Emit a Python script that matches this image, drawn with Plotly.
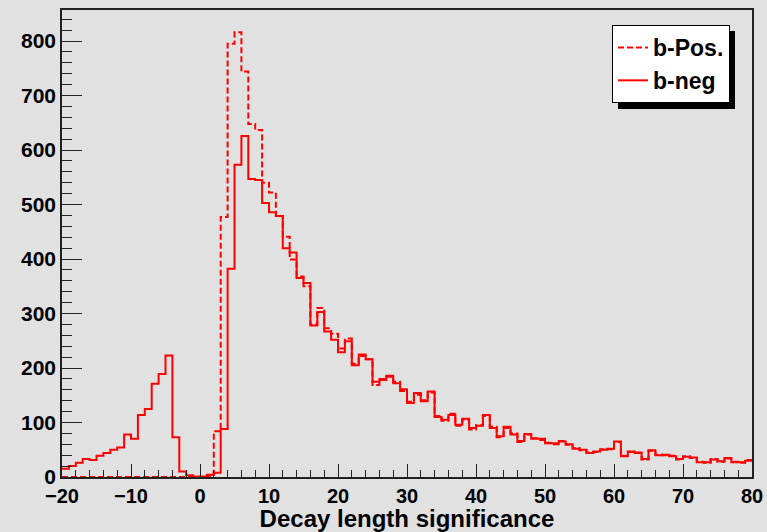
import plotly.graph_objects as go

# Histogram binning: 100 bins of width 1 from -20 to 80
bin_edges = list(range(-20, 81))

# b-Pos. (dashed) bin contents, bins -20..79
b_pos = [
    0, 0, 0, 0, 0, 0, 0, 0, 0, 0,          # -20 .. -11
    0, 0, 0, 0, 0, 0, 0, 0, 0, 0,          # -10 .. -1
    0, 2, 84, 477, 795, 816, 744, 648, 637, 540,   # 0 .. 9
    522, 479, 441, 399, 368, 350, 280, 310, 273, 263,  # 10 .. 19
    236, 254, 208, 222, 216, 169, 180, 184, 175, 158,  # 20 .. 29
    138, 151, 141, 155, 112, 103, 116, 94, 105, 87,    # 30 .. 39
    95, 112, 92, 73, 90, 80, 64, 78, 71, 68,           # 40 .. 49
    63, 60, 66, 59, 53, 49, 45, 46, 51, 51,            # 50 .. 59
    64, 39, 46, 45, 32, 48, 41, 40, 39, 32,            # 60 .. 69
    38, 35, 28, 26, 33, 28, 34, 28, 26, 31,            # 70 .. 79
]

# b-neg (solid) bin contents, bins -20..79
b_neg = [
    15, 20, 26, 33, 31, 39, 44, 50, 54, 78,            # -20 .. -11
    70, 114, 125, 171, 189, 223, 73, 10, 3, 1,         # -10 .. -1
    1, 4, 8, 88, 382, 573, 626, 547, 545, 503,         # 0 .. 9
    486, 479, 420, 412, 365, 356, 278, 303, 267, 252,  # 10 .. 19
    229, 249, 205, 225, 216, 175, 178, 186, 172, 161,  # 20 .. 29
    136, 154, 139, 157, 110, 105, 114, 96, 107, 90,    # 30 .. 39
    94, 114, 90, 75, 92, 78, 66, 79, 70, 70,           # 40 .. 49
    62, 62, 65, 60, 52, 50, 44, 47, 50, 52,            # 50 .. 59
    65, 38, 47, 44, 33, 49, 40, 41, 38, 33,            # 60 .. 69
    37, 36, 27, 27, 32, 29, 35, 27, 27, 30,            # 70 .. 79
]

x_ticks = [-20, -10, 0, 10, 20, 30, 40, 50, 60, 70, 80]
y_ticks = [0, 100, 200, 300, 400, 500, 600, 700, 800]

BG = "#e1e1e1"
RED = "#ff0000"
FONT = "Liberation Sans"

fig = go.Figure()
fig.add_trace(go.Scatter(
    x=bin_edges, y=b_pos + [b_pos[-1]], mode="lines", name="b-Pos.",
    line=dict(shape="hv", color=RED, width=2, dash="6px,3px"),
))
fig.add_trace(go.Scatter(
    x=bin_edges, y=b_neg + [b_neg[-1]], mode="lines", name="b-neg",
    line=dict(shape="hv", color=RED, width=2),
))

axis_common = dict(
    showline=True, mirror=True, linecolor="#222", linewidth=1.5,
    ticks="inside", tickcolor="#222", tickwidth=1.2,
    showgrid=False, zeroline=False, automargin=False,
)

# legend box (pixels) and its drop shadow
LEG_L, LEG_T = 612, 25
fig.update_layout(
    width=767, height=532,
    margin=dict(l=62, r=15, t=10, b=55),
    paper_bgcolor=BG, plot_bgcolor=BG,
    font=dict(family=FONT, color="black"),
    showlegend=True,
    legend=dict(
        x=(LEG_L - 62) / 690, y=(477.3 - LEG_T) / 467.3, xanchor="left", yanchor="top",
        bgcolor="white", bordercolor="black", borderwidth=1,
        font=dict(family=FONT, size=23, weight="bold", color="black"),
        tracegroupgap=0, itemwidth=30,
    ),
    xaxis=dict(
        range=[-20, 80], tickvals=x_ticks, ticklen=13,
        minor=dict(dtick=2, ticklen=7, ticks="inside", tickcolor="#222", tickwidth=1.2),
        tickfont=dict(family=FONT, size=20, weight="bold"),
        title=dict(text="Decay length significance", standoff=6,
                   font=dict(family=FONT, size=24, weight="bold")),
        **axis_common,
    ),
    yaxis=dict(
        range=[0, 857], tickvals=y_ticks, ticklen=20,
        minor=dict(dtick=20, ticklen=10, ticks="inside", tickcolor="#222", tickwidth=1.2),
        tickfont=dict(family=FONT, size=21, weight="bold"),
        **axis_common,
    ),
    shapes=[dict(
        type="rect", xref="paper", yref="paper", layer="above",
        x0=(LEG_L + 6 - 62) / 690, x1=(LEG_L + 123 - 62) / 690,
        y0=(477.3 - (LEG_T + 84)) / 467.3, y1=(477.3 - (LEG_T + 6)) / 467.3,
        fillcolor="black", line=dict(width=0),
    )],
)

fig.write_html("out.html")
